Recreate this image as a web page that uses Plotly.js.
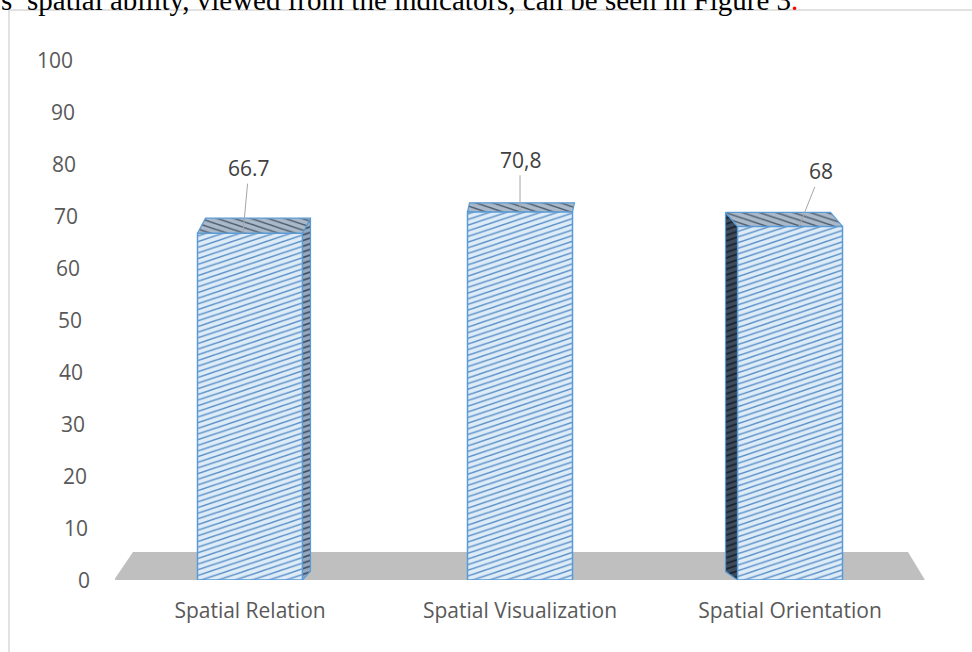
<!DOCTYPE html>
<html>
<head>
<meta charset="utf-8">
<script src="https://cdn.plot.ly/plotly-3.0.1.min.js"></script>
<style>
  html, body { margin: 0; padding: 0; background: #ffffff; }
  #chart { width: 972px; height: 652px; }
</style>
</head>
<body>
<div id="chart"></div>
<script>
// ---- chart values ----
const categories = ['Spatial Relation', 'Spatial Visualization', 'Spatial Orientation'];
const scores = [66.7, 70.8, 68];
const valueLabels = ['66.7', '70,8', '68'];
const yTicks = [0, 10, 20, 30, 40, 50, 60, 70, 80, 90, 100];
const captionText = 's’ spatial ability, viewed from the indicators, can be seen in Figure 3';

// ---- page geometry ----
const W = 972, H = 652;
const M = { l: 115, r: 47, t: 60, b: 72 };
const plotW = W - M.l - M.r, plotH = H - M.t - M.b;
const X_RANGE = [-0.5, categories.length - 0.5];
const Y_RANGE = [0, 100];
const pxPerX = plotW / (X_RANGE[1] - X_RANGE[0]);
const pxPerY = plotH / (Y_RANGE[1] - Y_RANGE[0]);
const BAR_W = 105 / pxPerX;

// depth vector of each column (pixels right, pixels up) for the 3-D look
const depthPx = [[8, 15], [2, 9], [-12, 14]];
// leader-line anchor nudge and label offset, pixels
const labelNudge = [-7, 0, 9];
const labelOffset = [[6, -65], [0, -52], [22, -55]];

const OUTLINE = '#5b9bd5';
const frontPattern = { shape: '/', bgcolor: '#deecf8', fgcolor: '#5a8fc8', size: 4, solidity: 0.28, fillmode: 'replace' };
const topPattern = { shape: '\\', bgcolor: '#a9b9ca', fgcolor: '#4f5e6e', size: 4, solidity: 0.28, fillmode: 'replace' };
const rightPattern = { shape: '/', bgcolor: '#94a9bf', fgcolor: '#3e4d5e', size: 4, solidity: 0.3, fillmode: 'replace' };
const leftPattern = { shape: '/', bgcolor: '#3d4d5f', fgcolor: '#1b2530', size: 4, solidity: 0.35, fillmode: 'replace' };

const xIdx = categories.map((_, i) => i);

const traces = [];

// side faces
scores.forEach((v, i) => {
  const dx = depthPx[i][0] / pxPerX, dy = depthPx[i][1] / pxPerY;
  const L = i - BAR_W / 2, R = i + BAR_W / 2;
  if (Math.abs(depthPx[i][0]) < 3) return;
  const edge = dx > 0 ? R : L;
  traces.push({
    type: 'scatter', mode: 'lines', fill: 'toself',
    x: [edge, edge + dx, edge + dx, edge, edge],
    y: [0, dy * 0.6, v + dy, v, 0],
    line: { color: OUTLINE, width: 1.2 },
    fillpattern: dx > 0 ? rightPattern : leftPattern,
    fillcolor: dx > 0 ? '#94a9bf' : '#3d4d5f',
    hoverinfo: 'skip', showlegend: false
  });
});

// front faces
traces.push({
  type: 'bar',
  x: xIdx,
  y: scores,
  width: BAR_W,
  marker: { color: '#deecf8', line: { color: OUTLINE, width: 1.5 }, pattern: frontPattern },
  hoverinfo: 'skip', showlegend: false
});

// top faces
scores.forEach((v, i) => {
  const dx = depthPx[i][0] / pxPerX, dy = depthPx[i][1] / pxPerY;
  const L = i - BAR_W / 2, R = i + BAR_W / 2;
  traces.push({
    type: 'scatter', mode: 'lines', fill: 'toself',
    x: [L, R, R + dx, L + dx, L],
    y: [v, v, v + dy, v + dy, v],
    line: { color: OUTLINE, width: 1.2 },
    fillpattern: topPattern,
    fillcolor: '#a9b9ca',
    hoverinfo: 'skip', showlegend: false
  });
});

// floor of the 3-D plot (pixels relative to the plot's lower-left corner)
const floorPx = [[-1, 0], [810, 0], [793, 28], [18, 28]];
const toX = px => X_RANGE[0] + px / pxPerX;
const toY = py => Y_RANGE[0] + py / pxPerY;
const floorPath = 'M' + floorPx.map(p => toX(p[0]) + ',' + toY(p[1])).join('L') + 'Z';

const annotations = [];

// value labels with leader lines
scores.forEach((v, i) => {
  annotations.push({
    x: i + labelNudge[i] / pxPerX, y: v, xref: 'x', yref: 'y',
    text: valueLabels[i],
    showarrow: true, arrowhead: 0, arrowwidth: 1, arrowcolor: '#a6a6a6',
    ax: labelOffset[i][0], ay: labelOffset[i][1], standoff: 0,
    font: { family: 'Open Sans, sans-serif', size: 21, color: '#404040' }
  });
});

// value-axis labels, drifting right toward the front of the plot
yTicks.forEach(t => {
  annotations.push({
    x: 0, y: t, xref: 'paper', yref: 'y',
    xanchor: 'right', yanchor: 'middle',
    xshift: -23 - 0.17 * t,
    text: String(t), showarrow: false,
    font: { family: 'Open Sans, sans-serif', size: 21, color: '#595959' }
  });
});

// running text line above the chart frame
annotations.push({
  x: (-1 - M.l) / plotW, y: (H - M.b - 18) / plotH,
  xref: 'paper', yref: 'paper', xanchor: 'left', yanchor: 'bottom',
  text: captionText + '<span style="color:#ff0000">.</span>',
  showarrow: false,
  font: { family: 'Liberation Serif, Times New Roman, serif', size: 29, color: '#000000' }
});

const layout = {
  width: W, height: H,
  margin: M,
  paper_bgcolor: '#ffffff', plot_bgcolor: 'rgba(0,0,0,0)',
  showlegend: false,
  xaxis: {
    range: X_RANGE, tickvals: xIdx, ticktext: categories,
    showgrid: false, zeroline: false, showline: false, ticks: '',
    ticklabelstandoff: 16,
    tickfont: { family: 'Open Sans, sans-serif', size: 21, color: '#595959' },
    fixedrange: true
  },
  yaxis: {
    range: Y_RANGE, showticklabels: false,
    showgrid: false, zeroline: false, showline: false, ticks: '',
    fixedrange: true
  },
  shapes: [
    { type: 'path', xref: 'x', yref: 'y', path: floorPath, fillcolor: '#bfbfbf', line: { width: 0 }, layer: 'below' },
    { type: 'rect', xref: 'paper', yref: 'paper',
      x0: (9 - M.l) / plotW, x1: (980 - M.l) / plotW,
      y0: (H - M.b - 670) / plotH, y1: (H - M.b - 10) / plotH,
      line: { color: '#d9d9d9', width: 1.5 }, fillcolor: 'rgba(0,0,0,0)', layer: 'below' }
  ],
  annotations: annotations
};

Plotly.newPlot('chart', traces, layout, { staticPlot: true, displayModeBar: false }).then(gd => {
  // flatten the hatch lines into shallow diagonals
  gd.querySelectorAll('pattern').forEach(p => p.setAttribute('patternTransform', 'scale(3,1)'));
});
</script>
</body>
</html>
